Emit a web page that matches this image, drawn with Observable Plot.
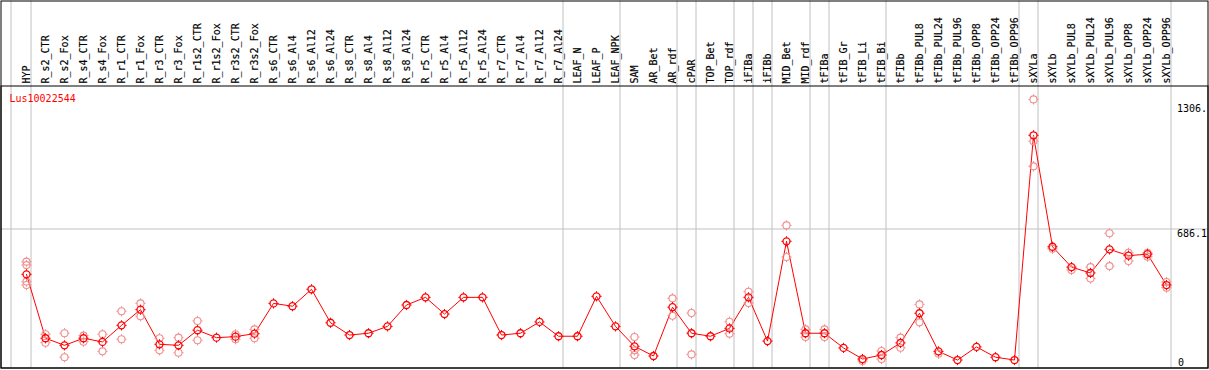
<!DOCTYPE html>
<html><head><meta charset="utf-8">
<script src="https://cdn.jsdelivr.net/npm/d3@7"></script>
<script src="https://cdn.jsdelivr.net/npm/@observablehq/plot@0.6"></script>
<style>
html,body{margin:0;padding:0;background:#fff}
#chart g[aria-label="x-axis"] text, #chart g[aria-label="x-axis tick label"] text { stroke: black; stroke-width: 0.18px; }
</style>
</head><body><div id="chart"></div>
<script>
const gene = "Lus10022544";
const categories = ["HYP","R_s2_CTR","R_s2_Fox","R_s4_CTR","R_s4_Fox","R_r1_CTR","R_r1_Fox","R_r3_CTR","R_r3_Fox","R_r1s2_CTR","R_r1s2_Fox","R_r3s2_CTR","R_r3s2_Fox","R_s6_CTR","R_s6_Al4","R_s6_Al12","R_s6_Al24","R_s8_CTR","R_s8_Al4","R_s8_Al12","R_s8_Al24","R_r5_CTR","R_r5_Al4","R_r5_Al12","R_r5_Al24","R_r7_CTR","R_r7_Al4","R_r7_Al12","R_r7_Al24","LEAF_N","LEAF_P","LEAF_NPK","SAM","AR_Bet","AR_rdf","cPAR","TOP_Bet","TOP_rdf","iFIBa","iFIBb","MID_Bet","MID_rdf","tFIBa","tFIB_Gr","tFIB_Li","tFIB_Bi","tFIBb","tFIBb_PUL8","tFIBb_PUL24","tFIBb_PUL96","tFIBb_OPP8","tFIBb_OPP24","tFIBb_OPP96","sXYLa","sXYLb","sXYLb_PUL8","sXYLb_PUL24","sXYLb_PUL96","sXYLb_OPP8","sXYLb_OPP24","sXYLb_OPP96"];
const means = [461,144,109,144,126,208,286,114,109,184,147,152,167,317,303,387,221,160,169,203,309,347,264,347,347,160,169,225,154,154,352,203,104,56,298,169,154,193,347,130,625,169,169,96,41,61,121,268,79,36,101,50,36,1151,598,497,468,585,554,561,408];
const replicates = [[524,507,425,408],[164,122],[169,50],[157,127],[164,79],[278,139],[317,253],[144,84],[147,72],[230,134],[],[164,139],[188,144],[],[],[],[],[],[],[],[],[],[],[],[],[],[],[],[],[],[],[],[150,84,61],[],[342,256],[269,64],[],[226,167],[375,319],[],[704,547],[188,150],[188,150],[],[31],[81,41],[147,97],[312,223],[67],[],[],[],[],[1329,1122,997],[588],[483],[497,440],[665,502],[568,527],[568,549],[423,395]];
const groupEnds = ["HYP","R_r7_Al24","LEAF_NPK","AR_rdf","cPAR","TOP_rdf","iFIBa","iFIBb","MID_rdf","tFIBa","tFIB_Bi","tFIBb_OPP96","sXYLa","sXYLb_OPP96"];
const gridValues = [686.1];
const yTickValues = [1306, 686.1];
const yTickLabels = ["1306.", "686.1"];
const zeroTick = [0];

const meanData = categories.map((c, i) => ({cat: c, value: means[i]}));
const repData = categories.flatMap((c, i) => replicates[i].map(v => ({cat: c, value: v})));

const red = "#ff0000";
const pink = "#f09090";
const grey = "#c0c0c0";

// small ticks at the four compass points of each marker circle
const compassTicks = {
  draw(context, size) {
    const r = Math.sqrt(size / Math.PI);
    const a = r, b = r + 1.6;
    context.moveTo(0, -a); context.lineTo(0, -b);
    context.moveTo(0, a); context.lineTo(0, b);
    context.moveTo(-a, 0); context.lineTo(-b, 0);
    context.moveTo(a, 0); context.lineTo(b, 0);
  }
};

const chart = Plot.plot({
  width: 1209, height: 370,
  marginTop: 85.5, marginBottom: 2.5, marginLeft: 0.5, marginRight: 1.5,
  style: {fontFamily: "'DejaVu Sans Mono', monospace", fontSize: "10px", background: "white", color: "black"},
  x: {type: "point", domain: categories, range: [26, 1166], padding: 0, axis: "top", tickRotate: -90, tickSize: 0, tickPadding: 2.5, label: null},
  y: {domain: [-6, 1398], range: [368, 85], axis: null},
  marks: [
    Plot.ruleX(groupEnds, {x: d => d, dx: 4.5, stroke: grey, insetTop: -85}),
    Plot.ruleX(["HYP"], {x: d => d, dx: -15.5, stroke: grey, insetTop: -85}),
    Plot.ruleY(gridValues, {y: d => d, stroke: grey}),
    Plot.frame({stroke: "black", insetTop: -85}),
    Plot.frame({stroke: "black"}),
    Plot.line(meanData, {x: "cat", y: "value", stroke: red, strokeWidth: 1}),
    Plot.dot(repData, {x: "cat", y: "value", r: 3.5, stroke: pink, strokeWidth: 1.1}),
    Plot.dot(repData, {x: "cat", y: "value", symbol: compassTicks, r: 3.5, stroke: pink, strokeWidth: 1}),
    Plot.dot(meanData, {x: "cat", y: "value", r: 3.5, stroke: red, strokeWidth: 1.3}),
    Plot.dot(meanData, {x: "cat", y: "value", symbol: compassTicks, r: 3.5, stroke: red, strokeWidth: 1}),
    Plot.text(yTickValues, {y: d => d, text: (d, i) => yTickLabels[i], frameAnchor: "right", textAnchor: "start", dx: -31, lineAnchor: "top", dy: 0.5, fill: "black"}),
    Plot.text(zeroTick, {y: d => d, text: d => String(d), frameAnchor: "right", textAnchor: "start", dx: -30, lineAnchor: "bottom", dy: -0.8, fill: "black"}),
    Plot.text([gene], {frameAnchor: "top-left", text: d => d, dx: 8.5, dy: 8.5, lineAnchor: "top", fill: red})
  ]
});
document.getElementById("chart").appendChild(chart);
</script>
</body></html>
